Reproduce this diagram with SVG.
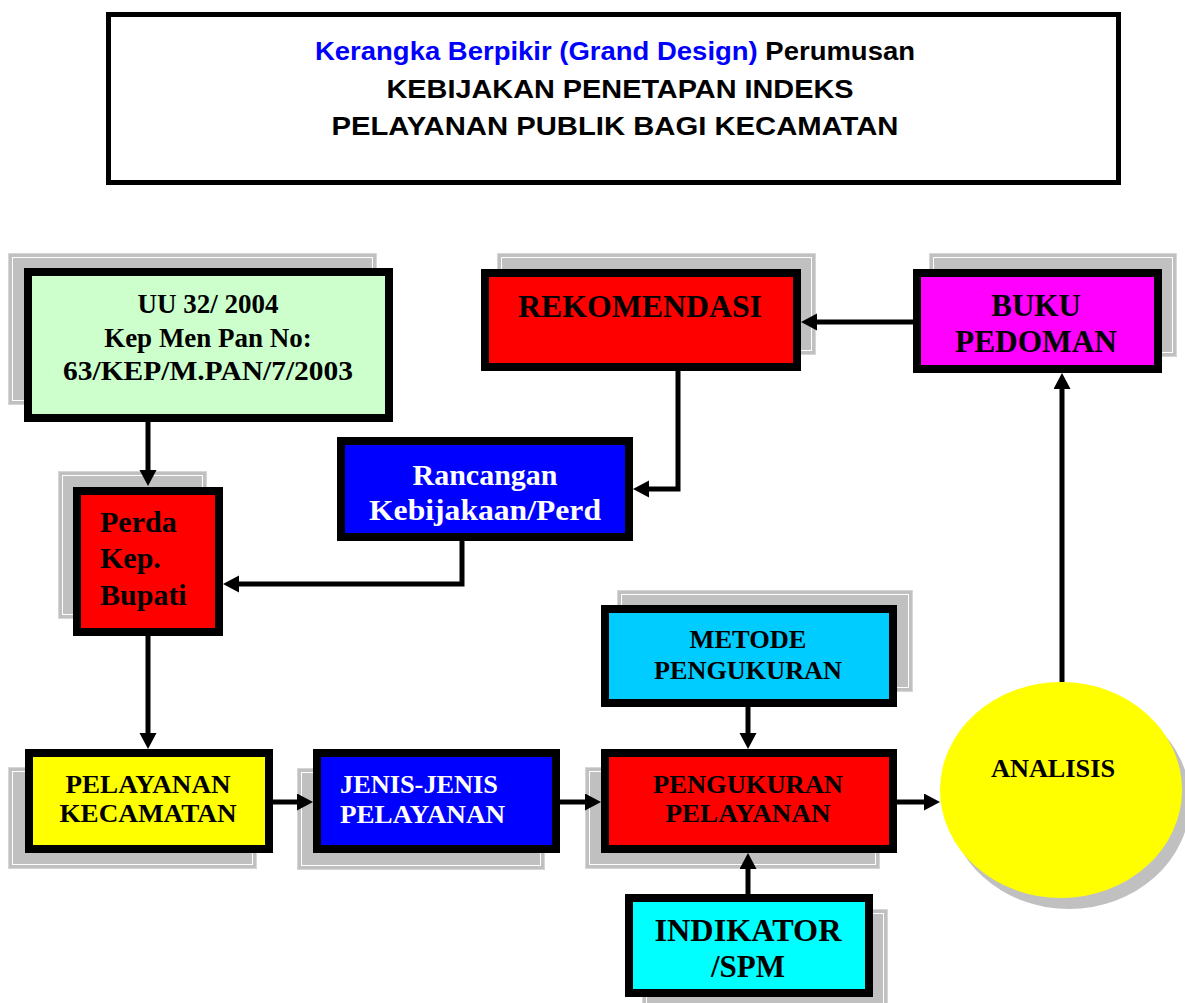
<svg xmlns="http://www.w3.org/2000/svg" width="1185" height="1003" viewBox="0 0 1185 1003">
<style>
.sh{fill:#C0C0C0;stroke:#D6D6D6;stroke-width:1}
.shi{fill:none;stroke:#FFFFFF;stroke-width:1}
.box{stroke:#000;stroke-width:8}
.t{font-family:"Liberation Serif","Times New Roman",serif;font-weight:bold;fill:#000}
.w{fill:#FFF}
.c{text-anchor:middle}
.ttl{font-family:"Liberation Sans",Arial,sans-serif;font-weight:bold;font-size:25px;text-anchor:middle;fill:#000}
.ln{fill:none;stroke:#000;stroke-width:5}
</style>
<defs>
<marker id="ah" markerUnits="userSpaceOnUse" markerWidth="17" markerHeight="18" refX="6" refY="8.5" orient="auto">
<path d="M0,0 L16,8.5 L0,17 z" fill="#000"/>
</marker>
</defs>
<rect width="1185" height="1003" fill="#FFF"/>

<g id="title">
<rect x="108.5" y="14.5" width="1010" height="168" fill="#FFF" stroke="#000" stroke-width="5"/>
<text class="ttl" x="615" y="60" textLength="600" lengthAdjust="spacingAndGlyphs"><tspan fill="#0000FF">Kerangka Berpikir (Grand Design)</tspan> Perumusan</text>
<text class="ttl" x="620" y="98" textLength="467" lengthAdjust="spacingAndGlyphs">KEBIJAKAN PENETAPAN INDEKS</text>
<text class="ttl" x="615" y="135" textLength="567" lengthAdjust="spacingAndGlyphs">PELAYANAN PUBLIK BAGI KECAMATAN</text>
</g>

<g id="uu">
<rect class="sh" x="8.5" y="253.5" width="368" height="151"/>
<rect class="shi" x="12.5" y="257.5" width="360" height="143"/>
<rect class="box" x="28" y="272" width="361" height="146" fill="#CCFFCC"/>
<text class="t c" x="208" y="313" font-size="27">UU 32/ 2004</text>
<text class="t c" x="208" y="347" font-size="27">Kep Men Pan No:</text>
<text class="t c" x="208" y="380" font-size="27" textLength="290" lengthAdjust="spacingAndGlyphs">63/KEP/M.PAN/7/2003</text>
</g>

<g id="perda">
<rect class="sh" x="58.5" y="471.5" width="148" height="147"/>
<rect class="shi" x="62.5" y="475.5" width="140" height="139"/>
<rect class="box" x="77" y="491" width="142" height="141" fill="#FF0000"/>
<text class="t" x="100" y="532" font-size="30">Perda</text>
<text class="t" x="100" y="568" font-size="30">Kep.</text>
<text class="t" x="100" y="605" font-size="30">Bupati</text>
</g>

<g id="rekomendasi">
<rect class="sh" x="497.5" y="253.5" width="318" height="101"/>
<rect class="shi" x="501.5" y="257.5" width="310" height="93"/>
<rect class="box" x="485" y="273" width="312" height="94" fill="#FF0000"/>
<text class="t c" x="640" y="317" font-size="31" textLength="244" lengthAdjust="spacingAndGlyphs">REKOMENDASI</text>
</g>

<g id="buku">
<rect class="sh" x="929.5" y="253.5" width="247" height="103"/>
<rect class="shi" x="933.5" y="257.5" width="239" height="95"/>
<rect class="box" x="917" y="273" width="241" height="96" fill="#FF00FF"/>
<text class="t c" x="1036" y="316" font-size="31">BUKU</text>
<text class="t c" x="1036" y="352" font-size="31" textLength="162" lengthAdjust="spacingAndGlyphs">PEDOMAN</text>
</g>

<g id="rancangan">
<rect class="box" x="341" y="441" width="288" height="96" fill="#0000FF"/>
<text class="t c w" x="485" y="485" font-size="30">Rancangan</text>
<text class="t c w" x="485" y="520" font-size="30" textLength="232" lengthAdjust="spacingAndGlyphs">Kebijakaan/Perd</text>
</g>

<g id="pelayanan-kecamatan">
<rect class="sh" x="8.5" y="767.5" width="248" height="101"/>
<rect class="shi" x="12.5" y="771.5" width="240" height="93"/>
<rect class="box" x="29" y="753" width="240" height="96" fill="#FFFF00"/>
<text class="t c" x="148" y="793" font-size="26" textLength="165" lengthAdjust="spacingAndGlyphs">PELAYANAN</text>
<text class="t c" x="148" y="822" font-size="26" textLength="177" lengthAdjust="spacingAndGlyphs">KECAMATAN</text>
</g>

<g id="jenis-pelayanan">
<rect class="sh" x="297.5" y="768.5" width="247" height="101"/>
<rect class="shi" x="301.5" y="772.5" width="239" height="93"/>
<rect class="box" x="317" y="753" width="239" height="96" fill="#0000FF"/>
<text class="t w" x="340" y="793" font-size="26" textLength="158" lengthAdjust="spacingAndGlyphs">JENIS-JENIS</text>
<text class="t w" x="340" y="823" font-size="26" textLength="165" lengthAdjust="spacingAndGlyphs">PELAYANAN</text>
</g>

<g id="metode">
<rect class="sh" x="617.5" y="590.5" width="295" height="101"/>
<rect class="shi" x="621.5" y="594.5" width="287" height="93"/>
<rect class="box" x="605" y="609" width="288" height="94" fill="#00CCFF"/>
<text class="t c" x="748" y="648" font-size="26" textLength="117" lengthAdjust="spacingAndGlyphs">METODE</text>
<text class="t c" x="748" y="679" font-size="26" textLength="188" lengthAdjust="spacingAndGlyphs">PENGUKURAN</text>
</g>

<g id="pengukuran">
<rect class="sh" x="585.5" y="767.5" width="294" height="101"/>
<rect class="shi" x="589.5" y="771.5" width="286" height="93"/>
<rect class="box" x="605" y="753" width="288" height="96" fill="#FF0000"/>
<text class="t c" x="748" y="793" font-size="26" textLength="190" lengthAdjust="spacingAndGlyphs">PENGUKURAN</text>
<text class="t c" x="748" y="822" font-size="26" textLength="165" lengthAdjust="spacingAndGlyphs">PELAYANAN</text>
</g>

<g id="indikator">
<rect class="sh" x="642.5" y="909.5" width="245" height="100"/>
<rect class="shi" x="646.5" y="913.5" width="237" height="92"/>
<rect class="box" x="629" y="898" width="240" height="95" fill="#00FFFF"/>
<text class="t c" x="748" y="941" font-size="31" textLength="187" lengthAdjust="spacingAndGlyphs">INDIKATOR</text>
<text class="t c" x="748" y="977" font-size="31">/SPM</text>
</g>

<g id="analisis">
<ellipse cx="1069" cy="801" rx="121" ry="108" fill="#C0C0C0"/>
<ellipse cx="1061" cy="790" rx="121" ry="108" fill="#FFFF00"/>
<text class="t c" x="1053" y="777" font-size="26" textLength="124" lengthAdjust="spacingAndGlyphs">ANALISIS</text>
</g>

<g id="connectors">
<path class="ln" d="M148,422 V476" marker-end="url(#ah)"/>
<path class="ln" d="M462,541 V584 H233" marker-end="url(#ah)"/>
<path class="ln" d="M678,371 V489 H643" marker-end="url(#ah)"/>
<path class="ln" d="M913,322 H811" marker-end="url(#ah)"/>
<path class="ln" d="M1062,682 V383" marker-end="url(#ah)"/>
<path class="ln" d="M148,636 V739" marker-end="url(#ah)"/>
<path class="ln" d="M273,802 H303" marker-end="url(#ah)"/>
<path class="ln" d="M560,802 H591" marker-end="url(#ah)"/>
<path class="ln" d="M897,802 H930" marker-end="url(#ah)"/>
<path class="ln" d="M748,707 V739" marker-end="url(#ah)"/>
<path class="ln" d="M748,894 V863" marker-end="url(#ah)"/>
</g>
</svg>
